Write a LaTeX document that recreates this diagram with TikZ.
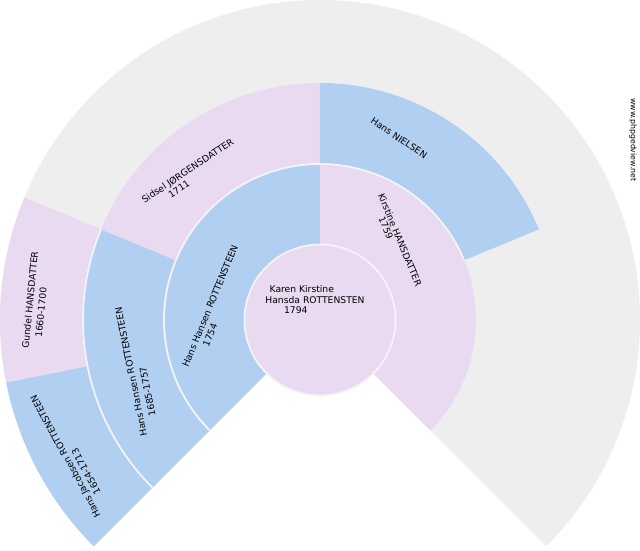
\documentclass[tikz,border=0pt]{standalone}
\usepackage{fontspec}
\setmainfont{DejaVu Sans}
\definecolor{fanM}{HTML}{B1CFF0}
\definecolor{fanF}{HTML}{E9DAF1}
\definecolor{fanG}{HTML}{EEEEEE}
\definecolor{sepC}{HTML}{F4F4F4}
\tikzset{
  lbl/.style={inner sep=0pt, font=\fontsize{9.2}{11}\selectfont, text=black},
  wm/.style={inner sep=0pt, font=\fontsize{7.8}{9}\selectfont, text=black},
  sepline/.style={draw=sepC, line width=1.8pt},
}
\newcommand{\annsec}[5]{% color, r1, r2, a1, a2
  \fill[#1] (#4:#2) arc[start angle=#4, end angle=#5, radius=#2] -- (#5:#3) arc[start angle=#5, end angle=#4, radius=#3] -- cycle;}
\begin{document}
\begin{tikzpicture}[x=1pt,y=1pt]
\useasboundingbox (-320,-230) rectangle (320,320);
% gray background of fan
\fill[fanG] (0,0) -- (-45:320pt) arc[start angle=-45, end angle=225, radius=320pt] -- cycle;
% ring 1
\annsec{fanM}{75pt}{156pt}{90}{225}
\annsec{fanF}{75pt}{156pt}{-45}{90}
% ring 2
\annsec{fanM}{156pt}{237pt}{157.5}{225}
\annsec{fanF}{156pt}{237pt}{90}{157.5}
\annsec{fanM}{156pt}{237pt}{22.5}{90}
% ring 3
\annsec{fanM}{237pt}{320pt}{191.25}{225}
\annsec{fanF}{237pt}{320pt}{157.5}{191.25}
% center
\fill[fanF] (0,0) circle[radius=75pt];
% separators
\draw[sepline] (0,0) circle[radius=75.5pt];
\draw[sepline] (22.5:156pt) arc[start angle=22.5, end angle=225, radius=156pt];
\draw[sepline] (157.5:237pt) arc[start angle=157.5, end angle=225, radius=237pt];
% labels
\node[lbl] (c1) at (-18.2,31) {Karen Kirstine};
\node[lbl] (c2) at (-5,20) {Hansda ROTTENSTEN};
\node[lbl] (c3) at (-24.2,9.5) {1794};
\node[lbl, rotate=67.5] (f1) at (-110,14) {Hans Hansen ROTTENSTEEN};
\node[lbl, rotate=67.5] (f1d) at (-110,-15) {1754};
\node[lbl, rotate=-67.5] (m1) at (80,80) {Kirstine HANSDATTER};
\node[lbl, rotate=-67.5] (m1d) at (66,92) {1759};
\node[lbl, rotate=101.25] (ff1) at (-189,-52) {Hans Hansen ROTTENSTEEN};
\node[lbl, rotate=101.25] (ff1d) at (-172.5,-71.5) {1685-1757};
\node[lbl, rotate=33.75] (fm1) at (-132,148.5) {Sidsel JØRGENSDATTER};
\node[lbl, rotate=33.75] (fm1d) at (-141,131) {1711};
\node[lbl, rotate=-33.75] (mf1) at (79,182) {Hans NIELSEN};
\node[lbl, rotate=84.375] (ffm) at (-290,20) {Gundel HANSDATTER};
\node[lbl, rotate=84.375] (ffmd) at (-279,7.5) {1660-1700};
\node[lbl, rotate=118.125] (fff) at (-254,-136) {Hans Jacobsen ROTTENSTEEN};
\node[lbl, rotate=118.125] (fffd) at (-234,-151.5) {1654-1713};
\node[wm, rotate=-90] (web) at (313,180) {www.phpgedview.net};
\end{tikzpicture}
\end{document}
